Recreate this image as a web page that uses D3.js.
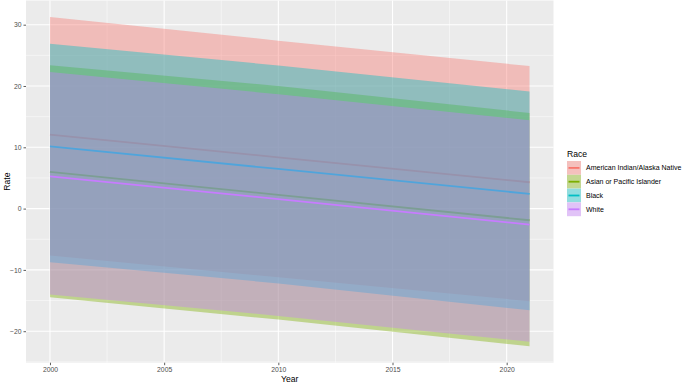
<!DOCTYPE html>
<html>
  <head>
    <meta charset="utf-8" />
    <script src="https://cdn.jsdelivr.net/npm/d3@7/dist/d3.min.js"></script>
    <style>
      * {
        margin: 0;
        padding: 0;
      }
      body {
        background: white;
        font-family: "Liberation Sans", Arial, sans-serif;
      }
      .tick text {
        fill: #4d4d4d;
      }
    </style>
  </head>
  <body>
    <svg id="chart" width="683" height="384"></svg>
    <script>
      // values: fitted line and band edges at each year
      const years = [2000, 2010, 2021];
      const races = [
        "American Indian/Alaska Native",
        "Asian or Pacific Islander",
        "Black",
        "White",
      ];
      const raceColors = ["#F8766D", "#7CAE00", "#00BFC4", "#C77CFF"];
      const fitLine = [
        [12.07, 8.37, 4.3],
        [5.98, 2.25, -1.9],
        [10.16, 6.47, 2.4],
        [5.27, 1.55, -2.6],
      ];
      const lowerBand = [
        [-7.66, -11.2, -15.1],
        [-14.45, -18.1, -22.45],
        [-8.75, -12.2, -16.6],
        [-14.0, -17.5, -21.7],
      ];
      const upperBand = [
        [31.26, 27.4, 23.25],
        [23.4, 20.0, 15.6],
        [26.9, 23.35, 19.1],
        [22.3, 18.65, 14.4],
      ];
      const xTicks = [2000, 2005, 2010, 2015, 2020];
      const yTicks = [-20, -10, 0, 10, 20, 30];

      const w = 683;
      const h = 384;
      const panel = { left: 26, right: 553.5, top: 0.5, bottom: 362.7 };

      const svg = d3.select("#chart");

      // ggplot style 5% expansion of the data range
      const xExt = d3.extent(years);
      const xPad = (xExt[1] - xExt[0]) * 0.05;
      const xScale = d3
        .scaleLinear()
        .domain([xExt[0] - xPad, xExt[1] + xPad])
        .range([panel.left, panel.right]);

      const yMin = d3.min(lowerBand.flat());
      const yMax = d3.max(upperBand.flat());
      const yPad = (yMax - yMin) * 0.05;
      const yScale = d3
        .scaleLinear()
        .domain([yMin - yPad, yMax + yPad])
        .range([panel.bottom, panel.top]);

      svg
        .append("rect")
        .attr("x", panel.left)
        .attr("y", panel.top)
        .attr("width", panel.right - panel.left)
        .attr("height", panel.bottom - panel.top)
        .attr("fill", "#ebebeb");

      // minor grid
      const xMinor = xTicks
        .concat([xTicks[0] - 5, xTicks[xTicks.length - 1] + 5])
        .map((d) => d + 2.5)
        .filter((d) => d > xScale.domain()[0] && d < xScale.domain()[1]);
      const yMinor = [yTicks[0] - 10]
        .concat(yTicks)
        .map((d) => d + 5)
        .filter((d) => d > yScale.domain()[0] && d < yScale.domain()[1]);

      const grid = svg.append("g");
      grid
        .selectAll(".xminor")
        .data(xMinor)
        .enter()
        .append("line")
        .attr("x1", (d) => xScale(d))
        .attr("x2", (d) => xScale(d))
        .attr("y1", panel.top)
        .attr("y2", panel.bottom)
        .attr("stroke", "white")
        .attr("stroke-width", 0.5);
      grid
        .selectAll(".yminor")
        .data(yMinor)
        .enter()
        .append("line")
        .attr("y1", (d) => yScale(d))
        .attr("y2", (d) => yScale(d))
        .attr("x1", panel.left)
        .attr("x2", panel.right)
        .attr("stroke", "white")
        .attr("stroke-width", 0.5);
      grid
        .selectAll(".xmajor")
        .data(xTicks)
        .enter()
        .append("line")
        .attr("x1", (d) => xScale(d))
        .attr("x2", (d) => xScale(d))
        .attr("y1", panel.top)
        .attr("y2", panel.bottom)
        .attr("stroke", "white")
        .attr("stroke-width", 1.1);
      grid
        .selectAll(".ymajor")
        .data(yTicks)
        .enter()
        .append("line")
        .attr("y1", (d) => yScale(d))
        .attr("y2", (d) => yScale(d))
        .attr("x1", panel.left)
        .attr("x2", panel.right)
        .attr("stroke", "white")
        .attr("stroke-width", 1.1);

      const area = d3
        .area()
        .x((d) => xScale(d.year))
        .y0((d) => yScale(d.low))
        .y1((d) => yScale(d.high));
      const line = d3
        .line()
        .x((d) => xScale(d.year))
        .y((d) => yScale(d.fit));

      // each group: ribbon then its line, in legend order
      races.forEach((race, i) => {
        const rows = years.map((year, j) => ({
          year,
          fit: fitLine[i][j],
          low: lowerBand[i][j],
          high: upperBand[i][j],
        }));
        svg
          .append("path")
          .datum(rows)
          .attr("d", area)
          .attr("fill", raceColors[i])
          .attr("fill-opacity", 0.4);
        svg
          .append("path")
          .datum(rows)
          .attr("d", line)
          .attr("fill", "none")
          .attr("stroke", raceColors[i])
          .attr("stroke-width", 1.8);
      });

      const xAxis = d3.axisBottom(xScale).tickValues(xTicks).tickSize(2.5).tickPadding(2).tickFormat(d3.format("d"));
      const yAxis = d3.axisLeft(yScale).tickValues(yTicks).tickSize(2.5).tickPadding(2);

      const gx = svg
        .append("g")
        .attr("transform", "translate(0," + panel.bottom + ")")
        .call(xAxis);
      const gy = svg
        .append("g")
        .attr("transform", "translate(" + panel.left + ",0)")
        .call(yAxis);
      [gx, gy].forEach((g) => {
        g.select(".domain").remove();
        g.selectAll(".tick line").attr("stroke", "#333333").attr("stroke-width", 0.8);
        g.selectAll(".tick text")
          .attr("font-size", 6.8)
          .attr("font-family", "Liberation Sans, Arial, sans-serif");
      });

      svg
        .append("text")
        .attr("x", (panel.left + panel.right) / 2)
        .attr("y", 382)
        .attr("text-anchor", "middle")
        .attr("font-size", 8.6)
        .text("Year");
      svg
        .append("text")
        .attr("transform", "translate(10," + (panel.top + panel.bottom) / 2 + ") rotate(-90)")
        .attr("text-anchor", "middle")
        .attr("font-size", 8.6)
        .text("Rate");

      // legend
      const legend = svg.append("g").attr("transform", "translate(567,161)");
      legend
        .append("text")
        .attr("x", 0)
        .attr("y", -4)
        .attr("font-size", 8.6)
        .text("Race");
      const keySize = 13.8;
      const keys = legend
        .selectAll(".key")
        .data(races)
        .enter()
        .append("g")
        .attr("transform", (d, i) => "translate(0," + i * keySize + ")");
      keys
        .append("rect")
        .attr("width", 14)
        .attr("height", keySize)
        .attr("fill", "#f2f2f2");
      keys
        .append("rect")
        .attr("width", 14)
        .attr("height", keySize)
        .attr("fill", (d, i) => raceColors[i])
        .attr("fill-opacity", 0.4);
      keys
        .append("line")
        .attr("x1", 1.5)
        .attr("x2", 12.5)
        .attr("y1", keySize / 2)
        .attr("y2", keySize / 2)
        .attr("stroke", (d, i) => raceColors[i])
        .attr("stroke-width", 1.8);
      keys
        .append("text")
        .attr("x", 19)
        .attr("y", keySize / 2)
        .attr("dy", "0.35em")
        .attr("font-size", 7)
        .text((d) => d);
    </script>
  </body>
</html>
